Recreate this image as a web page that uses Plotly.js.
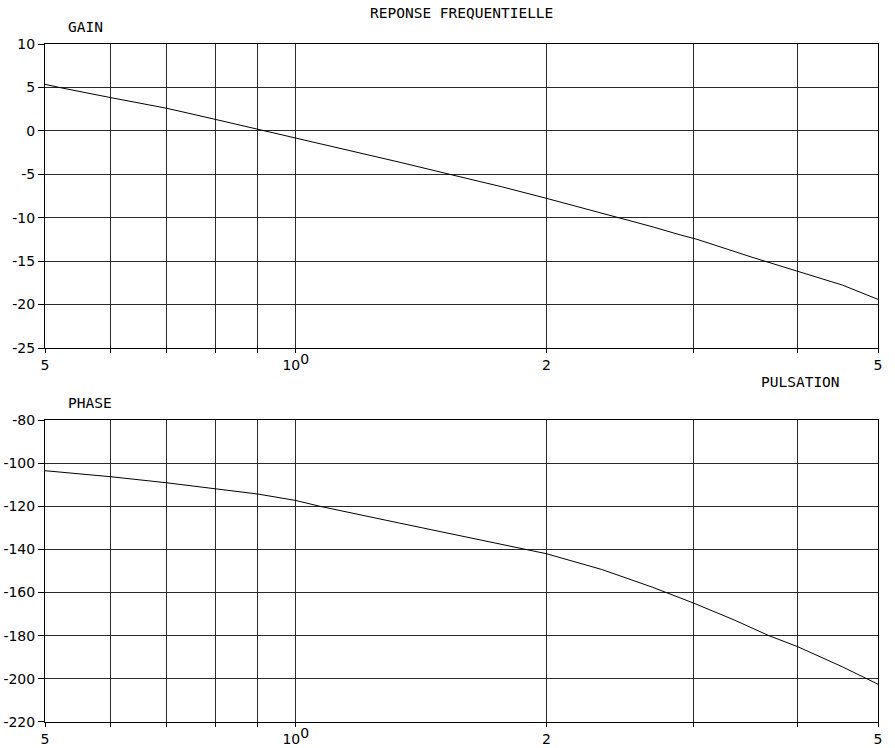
<!DOCTYPE html>
<html>
<head>
<meta charset="utf-8">
<script src="https://cdn.plot.ly/plotly-3.0.1.min.js"></script>
<style>html,body{margin:0;padding:0;background:#fff;}#chart{width:895px;height:748px;}</style>
</head>
<body>
<div id="chart"></div>
<script>
// Pulsation values (rad/s) where the curves were read
const gainW   = [0.5, 0.52, 0.6, 0.7, 0.8, 0.9, 1.0, 1.165, 1.27, 1.338, 1.53, 1.766, 2.0, 2.332, 2.395, 2.677, 2.9, 3.03, 3.53, 3.7, 4.0, 4.53, 5.0];
const gainDb  = [5.36, 5.0, 3.82, 2.6, 1.33, 0.2, -0.86, -2.28, -3.16, -3.65, -5.0, -6.43, -7.77, -9.45, -9.8, -11.03, -12.0, -12.48, -14.55, -15.15, -16.1, -17.75, -19.4];

const phaseW   = [0.5, 0.6, 0.7, 0.8, 0.9, 1.0, 1.069, 1.333, 1.53, 1.766, 2.0, 2.33, 2.68, 3.0, 3.36, 3.7, 4.0, 4.53, 4.85, 5.0];
const phaseDeg = [-103.5, -106.3, -109.1, -111.7, -114.3, -117.3, -120.0, -127.8, -132.7, -137.6, -142.0, -149.3, -157.5, -164.8, -172.7, -180.0, -185.0, -194.4, -200.0, -202.5];

const xTickVals  = [0.5, 1, 2, 5];
const xTickText  = ['5', '10<sup><span style="font-size:14px">0</span></sup>', '2', '5'];
const xGridVals  = [0.6, 0.7, 0.8, 0.9, 3, 4];
const gainTicks  = [-25, -20, -15, -10, -5, 0, 5, 10];
const gainTickText  = ['-25', '-20', '-15', '-10', '-5', '0', '5', '10'];
const phaseTicks = [-220, -200, -180, -160, -140, -120, -100, -80];
const phaseTickText = ['-220', '-200', '-180', '-160', '-140', '-120', '-100', '-80'];

const gridColor = '#2a2a2a';
const tickFont = {family: 'DejaVu Sans', size: 14, color: '#000'};
const monoFont = {family: 'DejaVu Sans Mono', size: 14.5, color: '#000'};

function xAxis(anchor) {
  return {
    type: 'log', range: [Math.log10(0.5), Math.log10(5)], anchor: anchor,
    tickmode: 'array', tickvals: xTickVals, ticktext: xTickText,
    ticks: 'outside', ticklen: 4, tickcolor: '#000', tickfont: tickFont,
    showgrid: true, gridcolor: gridColor, gridwidth: 1,
    minor: {tickmode: 'array', tickvals: xGridVals, ticks: 'outside', ticklen: 4, tickcolor: '#000',
            showgrid: true, gridcolor: gridColor, gridwidth: 1},
    showline: true, linecolor: '#000', linewidth: 1, mirror: true,
    zeroline: false, fixedrange: true
  };
}
function yAxis(range, ticks, text, domain, anchor) {
  return {
    range: range, domain: domain, anchor: anchor,
    tickmode: 'array', tickvals: ticks, ticktext: text,
    ticks: 'outside', ticklen: 6, tickcolor: '#000', tickfont: tickFont,
    showgrid: true, gridcolor: gridColor, gridwidth: 1,
    showline: true, linecolor: '#000', linewidth: 1, mirror: true,
    zeroline: false, fixedrange: true
  };
}

const traces = [
  {x: gainW, y: gainDb, xaxis: 'x', yaxis: 'y', mode: 'lines',
   line: {color: '#000', width: 1}, hoverinfo: 'skip'},
  {x: phaseW, y: phaseDeg, xaxis: 'x2', yaxis: 'y2', mode: 'lines',
   line: {color: '#000', width: 1}, hoverinfo: 'skip'}
];

const layout = {
  width: 895, height: 748,
  margin: {l: 45, r: 17, t: 44, b: 26},
  paper_bgcolor: '#fff', plot_bgcolor: '#fff',
  showlegend: false,
  xaxis: xAxis('y'),
  yaxis: yAxis([-25, 10], gainTicks, gainTickText, [0.5516, 1], 'x'),
  xaxis2: xAxis('y2'),
  yaxis2: yAxis([-220, -80], phaseTicks, phaseTickText, [0, 0.4454], 'x2'),
  annotations: [
    {text: 'REPONSE FREQUENTIELLE', xref: 'paper', yref: 'paper', x: 0.5, y: 1, xanchor: 'center', yanchor: 'bottom',
     yshift: 21, xshift: 0, showarrow: false, font: monoFont},
    {text: 'GAIN', xref: 'paper', yref: 'paper', x: 0, y: 1, xanchor: 'left', yanchor: 'bottom',
     xshift: 21, yshift: 7, showarrow: false, font: monoFont},
    {text: 'PHASE', xref: 'paper', yref: 'paper', x: 0, y: 0.4454, xanchor: 'left', yanchor: 'bottom',
     xshift: 21, yshift: 7, showarrow: false, font: monoFont},
    {text: 'PULSATION', xref: 'paper', yref: 'paper', x: 1, y: 0.5516, xanchor: 'right', yanchor: 'top',
     xshift: -36, yshift: -24, showarrow: false, font: monoFont}
  ]
};

Plotly.newPlot('chart', traces, layout, {displayModeBar: false, staticPlot: true});
</script>
</body>
</html>
